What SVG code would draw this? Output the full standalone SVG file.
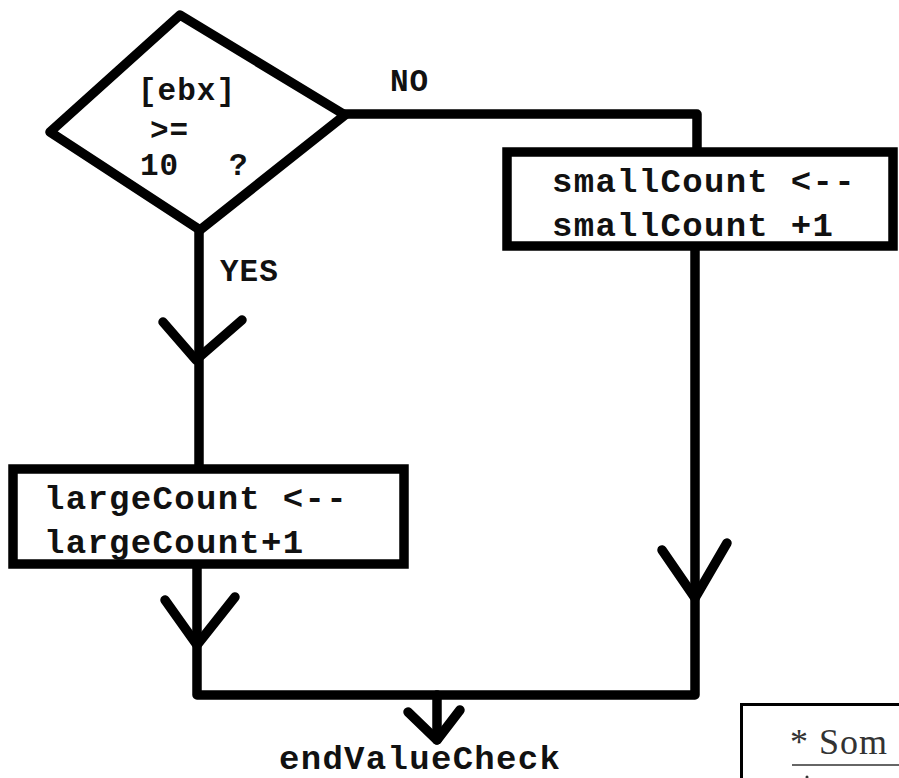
<svg xmlns="http://www.w3.org/2000/svg" width="899" height="778" viewBox="0 0 899 778">
<style>
.ln{fill:none;stroke:#000;stroke-width:9.5;stroke-linecap:round;stroke-linejoin:round}
.bx{fill:#fff;stroke:#000;stroke-width:9.5}
.t{font-family:"Liberation Mono","Courier New",monospace;font-weight:bold;fill:#111}
.big{font-size:34px;letter-spacing:1.3px}
.sm{font-size:31px;letter-spacing:1px}
</style>
<rect width="899" height="778" fill="#fff"/>
<g id="connectors">
<path class="ln" d="M345,114 H697 V150"/>
<path class="ln" d="M199,230 V465"/>
<path class="ln" d="M163,322 L196,360 L242,320"/>
<path class="ln" d="M695,250 V695 H197 V568"/>
<path class="ln" d="M662,550 L695,598 L727,543"/>
<path class="ln" d="M165,600 L197,645 L235,597"/>
<path class="ln" d="M437,695 V740"/>
<path class="ln" d="M408,712 L437,740 L460,710"/>
</g>
<g id="decision">
<polygon class="ln" points="180,15 345,115 200,230 50,132" style="fill:#fff"/>
<text class="t sm" x="138" y="100">[ebx]</text>
<text class="t sm" x="150" y="140">&gt;=</text>
<text class="t sm" x="140" y="175">10</text>
<text class="t sm" x="229" y="175">?</text>
</g>
<g id="label-no"><text class="t sm" x="390" y="91">NO</text></g>
<g id="label-yes"><text class="t sm" x="220" y="281">YES</text></g>
<g id="smallCount">
<rect class="bx" x="507" y="152" width="386" height="94"/>
<text class="t big" x="552" y="192">smallCount &lt;--</text>
<text class="t big" x="552" y="236">smallCount +1</text>
</g>
<g id="largeCount">
<rect class="bx" x="13" y="469" width="391" height="95"/>
<text class="t big" x="44" y="509">largeCount &lt;--</text>
<text class="t big" x="44" y="553">largeCount+1</text>
</g>
<g id="endValueCheck">
<text class="t big" x="279" y="769">endValueCheck</text>
</g>
<g id="note">
<rect x="741.5" y="704.5" width="170" height="90" fill="#fff" stroke="#000" stroke-width="3"/>
<text x="790" y="754" font-family="'Liberation Serif','Times New Roman',serif" font-size="36" fill="#333" letter-spacing="1">*  Som</text>
<line x1="792" y1="765" x2="899" y2="765" stroke="#333" stroke-width="1.5"/>
<circle cx="807" cy="777" r="1.5" fill="#333"/>
</g>
</svg>
